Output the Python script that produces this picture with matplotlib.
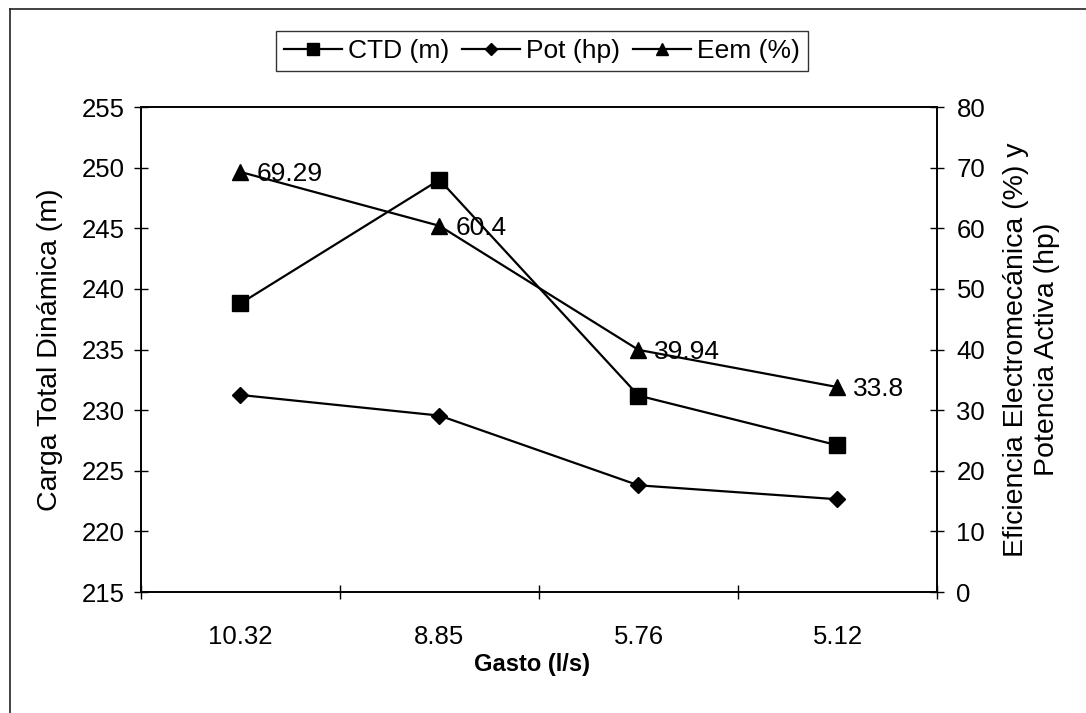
import numpy as np
import matplotlib
matplotlib.use("Agg")
import matplotlib.pyplot as plt
from matplotlib.lines import Line2D

plt.rcParams['font.family'] = ['Liberation Sans', 'DejaVu Sans']

gasto = ['10.32', '8.85', '5.76', '5.12']
ctd = [238.8, 249.0, 231.2, 227.1]      # carga total dinamica (m)
pot = [32.5, 29.1, 17.6, 15.3]          # potencia activa (hp)
eem = [69.29, 60.4, 39.94, 33.8]        # eficiencia electromecanica (%)

x = np.arange(len(gasto)) + 0.5

fig = plt.figure(figsize=(10.86, 7.13), dpi=100)
ax = fig.add_axes([0.1298, 0.1697, 0.7330, 0.6802])
ax2 = ax.twinx()

l1, = ax.plot(x, ctd, color='black', lw=1.6, marker='s', ms=11, label='CTD (m)')
l2, = ax2.plot(x, pot, color='black', lw=1.6, marker='D', ms=8, label='Pot (hp)')
l3, = ax2.plot(x, eem, color='black', lw=1.6, marker='^', ms=11, label='Eem (%)')

for xi, v in zip(x, eem):
    ax2.annotate(f"{v:g}", (xi, v), xytext=(11.5, -1.5), textcoords='offset points',
                 ha='left', va='center', fontsize=19)

ax.set_xlim(0, len(gasto))
ax.set_ylim(215, 255)
ax.set_yticks(np.arange(215, 256, 5))
ax2.set_ylim(0, 80)
ax2.set_yticks(np.arange(0, 81, 10))

# category boundaries carry the tick marks, centres carry the labels
ax.set_xticks(np.arange(len(gasto) + 1))
ax.set_xticklabels([])
ax.set_xticks(x, minor=True)
ax.set_xticklabels(gasto, minor=True)
ax.tick_params(axis='x', which='major', direction='inout', length=10, width=1)
ax.tick_params(axis='x', which='minor', length=0, pad=24, labelsize=18.5)
ax.tick_params(axis='y', direction='inout', length=10, width=1, pad=7, labelsize=18.5)
ax2.tick_params(axis='y', direction='inout', length=10, width=1, pad=9, labelsize=18.5)

for a in (ax, ax2):
    for s in a.spines.values():
        s.set_linewidth(1.2)

ax.set_xlabel('Gasto (l/s)', fontsize=17, fontweight='bold')
ax.xaxis.set_label_coords(0.491, -0.126)
ax.set_ylabel('Carga Total Dinámica (m)', fontsize=20.5)
ax.yaxis.set_label_coords(-0.098, 0.5)
ax2.set_ylabel('Eficiencia Electromecánica (%) y\nPotencia Activa (hp)',
               fontsize=20.5, rotation=90, va='top', linespacing=1.25)
ax2.yaxis.set_label_coords(1.083, 0.5)

leg = fig.legend(handles=[l1, l2, l3], loc='center', bbox_to_anchor=(0.499, 0.928),
                 ncol=3, fontsize=19, frameon=True, fancybox=False,
                 handlelength=2.2, handletextpad=0.22, columnspacing=0.5,
                 borderpad=0.3, borderaxespad=0, markerscale=0.8)
leg.get_frame().set_edgecolor('black')
leg.get_frame().set_linewidth(1.0)

# page frame lines along the top and left edge
fig.add_artist(Line2D([0.009, 0.009], [0.0, 0.988], transform=fig.transFigure,
                      color='#222222', lw=1.2))
fig.add_artist(Line2D([0.009, 1.0], [0.988, 0.988], transform=fig.transFigure,
                      color='#222222', lw=1.2))

fig.savefig('out.png', dpi=100)
